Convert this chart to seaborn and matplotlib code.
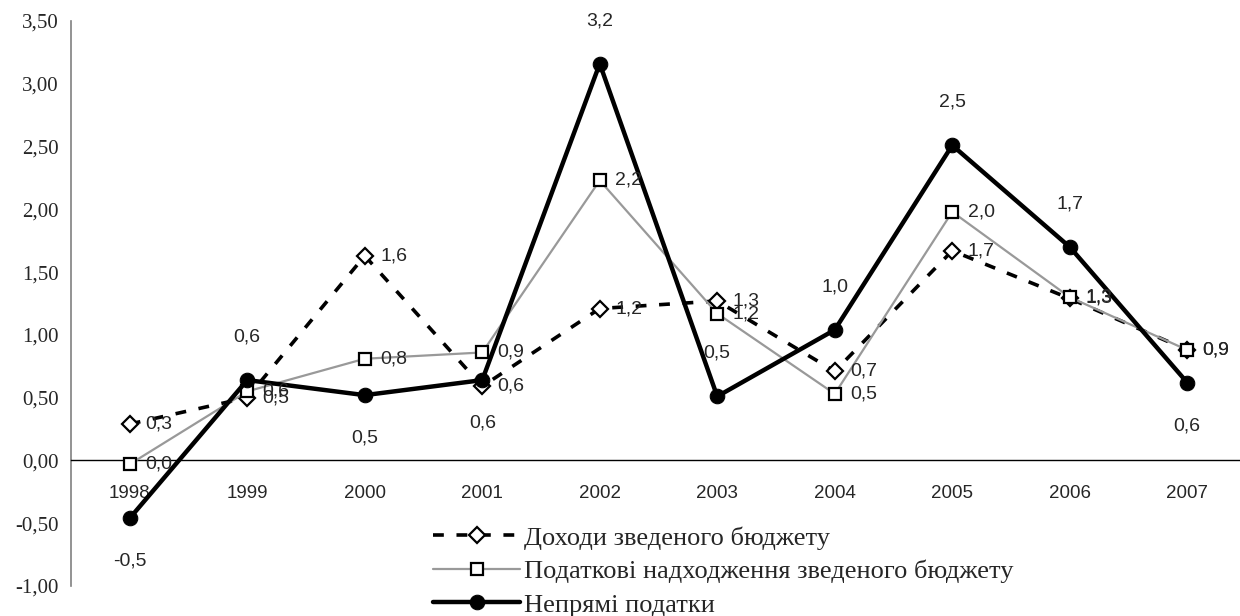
import pandas as pd
import numpy as np
import matplotlib
matplotlib.use("Agg")
import matplotlib.pyplot as plt
import seaborn as sns

# Data
years = ["1998", "1999", "2000", "2001", "2002", "2003", "2004", "2005", "2006", "2007"]
dokhody = [0.29, 0.50, 1.63, 0.59, 1.21, 1.27, 0.71, 1.67, 1.29, 0.88]
podatkovi = [-0.03, 0.55, 0.81, 0.86, 2.23, 1.17, 0.53, 1.98, 1.30, 0.88]
nepriami = [-0.46, 0.64, 0.52, 0.64, 3.16, 0.51, 1.04, 2.51, 1.70, 0.62]
# where the label of the indirect-tax series sits: 1 above, -1 below
nepriami_pos = [-1, 1, -1, -1, 1, 1, 1, 1, 1, -1]

names = ["Доходи зведеного бюджету",
         "Податкові надходження зведеного бюджету",
         "Непрямі податки"]

df = pd.DataFrame({"idx": np.arange(len(years)),
                   names[0]: dokhody, names[1]: podatkovi, names[2]: nepriami})

sns.set_style("white")
plt.rcParams['font.family'] = ['Liberation Sans', 'DejaVu Sans']

fig = plt.figure(figsize=(12.4, 6.16), dpi=100)
ax = fig.add_axes([71 / 1240, 1 - 586 / 616, 1175 / 1240, 565 / 616])


def fmt(v):
    return f"{round(v, 1) + 0.0:.1f}".replace(".", ",")


sns.lineplot(data=df, x="idx", y=names[0], ax=ax, color="black", linewidth=2.6,
             dashes=False, linestyle=(0, (3, 3.5)), marker="D", markersize=8,
             markerfacecolor="white", markeredgecolor="black", markeredgewidth=1.6,
             label=names[0], zorder=3)
sns.lineplot(data=df, x="idx", y=names[1], ax=ax, color="#999999", linewidth=1.6,
             marker="s", markersize=9, markerfacecolor="white",
             markeredgecolor="black", markeredgewidth=1.6,
             label=names[1], zorder=4)
sns.lineplot(data=df, x="idx", y=names[2], ax=ax, color="black", linewidth=3.2,
             marker="o", markersize=10.5, markerfacecolor="black",
             markeredgecolor="black", label=names[2], zorder=5)

# data labels
for i, v in enumerate(dokhody):
    ax.annotate(fmt(v), (i, v), xytext=(11, 0), textcoords="offset points",
                ha="left", va="center", fontsize=14, zorder=6)
for i, v in enumerate(podatkovi):
    ax.annotate(fmt(v), (i, v), xytext=(11, 0), textcoords="offset points",
                ha="left", va="center", fontsize=14, zorder=6)
for i, v in enumerate(nepriami):
    ax.annotate(fmt(v), (i, v), xytext=(0, 31 * nepriami_pos[i]),
                textcoords="offset points", ha="center", va="center",
                fontsize=14, zorder=6)

ax.set_xlim(-0.5, 9.5)
ax.set_ylim(-1.0, 3.5)
ax.set_yticks(np.arange(-1.0, 3.51, 0.5))
ax.set_yticklabels([f"{t:.2f}".replace(".", ",") for t in np.arange(-1.0, 3.51, 0.5)],
                   fontfamily="Liberation Serif")
ax.set_xticks(range(len(years)))
ax.set_xticklabels(years)
ax.set_xticks(np.arange(0.5, 9.5, 1.0), minor=True)
ax.tick_params(axis="x", which="major", length=0, pad=18, labelsize=13.5)
ax.tick_params(axis="x", which="minor", length=5, width=1, color="black", direction="out")
ax.tick_params(axis="y", length=5, width=1, color="#808080", direction="out", pad=4,
               labelsize=15)
ax.set_xlabel("")
ax.set_ylabel("")

for s in ["top", "right"]:
    ax.spines[s].set_visible(False)
ax.spines["bottom"].set_position(("data", 0))
ax.spines["bottom"].set_color("black")
ax.spines["bottom"].set_linewidth(1)
ax.spines["left"].set_color("#808080")
ax.spines["left"].set_linewidth(1.2)

handles, labels = ax.get_legend_handles_labels()
ax.get_legend().remove()
fig.legend(handles, labels, loc="upper left", bbox_to_anchor=(433 / 1240, 1 - 526 / 616),
           frameon=False, borderaxespad=0, borderpad=0, handlelength=3.3,
           handletextpad=0.15, labelspacing=0.38,
           prop={"family": "Liberation Serif", "size": 19})

fig.savefig("out.png", dpi=100)
